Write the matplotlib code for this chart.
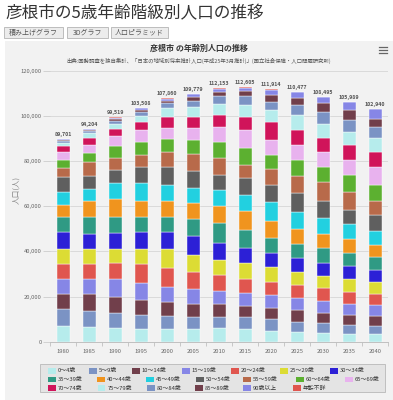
from __future__ import annotations

import matplotlib

matplotlib.use("Agg")
import matplotlib.pyplot as plt
import numpy as np
from matplotlib.lines import Line2D
from matplotlib.patches import Rectangle
from matplotlib.ticker import FixedLocator, FuncFormatter, MultipleLocator

plt.rcParams["font.family"] = ["Noto Sans CJK JP", "DejaVu Sans"]

PAGE_TITLE = "彦根市の5歳年齢階級別人口の推移"
CHART_TITLE = "彦根市 の年齢別人口の推移"
SUBTITLE = "出典:国勢調査を独自集計、「日本の地域別将来推計人口(平成25年3月推計)」(国立社会保障・人口問題研究所)"
BUTTONS = ["積み上げグラフ", "3Dグラフ", "人口ピラミッド"]
Y_LABEL = "人口(人)"

YEARS = ["1980", "1985", "1990", "1995", "2000", "2005", "2010",
         "2015", "2020", "2025", "2030", "2035", "2040"]
TOTALS = [89701, 94204, 99519, 103508, 107860, 109779, 112153,
          112605, 111914, 110477, 108495, 105989, 102940]

AGE_GROUPS = ["0～4歳", "5～9歳", "10～14歳", "15～19歳", "20～24歳", "25～29歳", "30～34歳",
              "35～39歳", "40～44歳", "45～49歳", "50～54歳", "55～59歳", "60～64歳", "65～69歳",
              "70～74歳", "75～79歳", "80～84歳", "85～89歳", "90歳以上", "年齢不詳"]

# persons per age group, one value per year above
AGE_00_04 = [7000, 6400, 5900, 5500, 5600, 5500, 5900, 5500, 4900, 4400, 4000, 3400, 3400]
AGE_05_09 = [7600, 7000, 6900, 6400, 5600, 5400, 5200, 5300, 5000, 4400, 4100, 4000, 3500]
AGE_10_14 = [6500, 7600, 7100, 6600, 6400, 5900, 5600, 5200, 4900, 5200, 4700, 4400, 4500]
AGE_15_19 = [6800, 6600, 8000, 7600, 6800, 6600, 5900, 5600, 5900, 5200, 5300, 4900, 4800]
AGE_20_24 = [6500, 6800, 7100, 8300, 8400, 7400, 6900, 6200, 5800, 5900, 5500, 5400, 4900]
AGE_25_29 = [6500, 6500, 6200, 6800, 8300, 7400, 6700, 7100, 6400, 5900, 5500, 5500, 5400]
AGE_30_34 = [7600, 6800, 6800, 7300, 7400, 8400, 7300, 6600, 6500, 5900, 5900, 5900, 5200]
AGE_35_39 = [6800, 7600, 7000, 6800, 6900, 7800, 8900, 8100, 6300, 6400, 6300, 5600, 5900]
AGE_40_44 = [5200, 7100, 8000, 7100, 7100, 6800, 7600, 8100, 7800, 6400, 6400, 6200, 5200]
AGE_45_49 = [5900, 5200, 7100, 8000, 7100, 7000, 7100, 7400, 8500, 7900, 6900, 6600, 6300]
AGE_50_54 = [6600, 5800, 5900, 6800, 7900, 7200, 6700, 7400, 7200, 8400, 7900, 6600, 7000]
AGE_55_59 = [3700, 6200, 5200, 5400, 6400, 7700, 7400, 5900, 7200, 7400, 8000, 7600, 6300]
AGE_60_64 = [3700, 3800, 5400, 5900, 5900, 6300, 7300, 7400, 6200, 7000, 7000, 7700, 6900]
AGE_65_69 = [3700, 3600, 4400, 5200, 4900, 5400, 6600, 7900, 6800, 6600, 6600, 6600, 8100]
AGE_70_74 = [2500, 3200, 3000, 3800, 5000, 4600, 5200, 6000, 7700, 6700, 6300, 6600, 6700]
AGE_75_79 = [1500, 2000, 2300, 2600, 3600, 4500, 4900, 4900, 5400, 6600, 5900, 6000, 6300]
AGE_80_84 = [900, 1100, 1400, 1700, 2200, 2800, 3500, 4000, 3800, 4400, 5500, 5200, 4700]
AGE_85_89 = [400, 600, 900, 1000, 1300, 1800, 1900, 2400, 3000, 3400, 3700, 4300, 3700]
AGE_90_UP = [150, 150, 500, 500, 700, 1000, 1100, 1400, 2200, 2400, 3000, 3500, 4100]
AGE_UNKNOWN = [150, 150, 400, 200, 360, 300, 450, 200, 400, 0, 0, 0, 0]

SERIES = [AGE_00_04, AGE_05_09, AGE_10_14, AGE_15_19, AGE_20_24, AGE_25_29, AGE_30_34,
          AGE_35_39, AGE_40_44, AGE_45_49, AGE_50_54, AGE_55_59, AGE_60_64, AGE_65_69,
          AGE_70_74, AGE_75_79, AGE_80_84, AGE_85_89, AGE_90_UP, AGE_UNKNOWN]

PALETTE = ["#b6ecec", "#7b93c4", "#713f4b", "#8686e6", "#e0564f", "#dcdc34", "#2c20d6",
           "#2f9a84", "#f0941e", "#22d0e0", "#5f5f5f", "#b86a4a", "#5cb030", "#e8b2ee",
           "#d0145a"]

BG = "#f2f2f2"
W, H = 393, 400

# legend rows: (first item index, x start of each swatch in px), row y in px
LEGEND_ROWS = [
    (0, [48, 89, 132, 182, 231, 280, 330], 371),
    (7, [48, 97, 146, 196, 243, 296, 345], 379.5),
    (14, [48, 98, 147, 195, 243, 293], 388),
]


def fx(px: float) -> float:
    return px / W


def fy(py: float) -> float:
    return 1 - py / H


def draw_frame(fig) -> None:
    fig.add_artist(Rectangle((fx(5), 0), 1 - fx(5), fy(41), transform=fig.transFigure,
                             fc=BG, ec="none", zorder=0))
    fig.text(fx(5), fy(14), PAGE_TITLE, fontsize=12, color="#333333", va="center", ha="left")
    boxes = [(4, 63), (67, 108), (111, 168)]
    for label, (x0, x1) in zip(BUTTONS, boxes):
        fig.add_artist(Rectangle((fx(x0), fy(38)), fx(x1) - fx(x0), fy(27) - fy(38),
                                 transform=fig.transFigure, fc="#ececec", ec="#b4b4b4", lw=0.6))
        fig.text(fx((x0 + x1) / 2), fy(32.5), label, fontsize=5, color="#555555",
                 ha="center", va="center")
    fig.text(fx(199), fy(48), CHART_TITLE, fontsize=5.8, fontweight="bold", color="#333333",
             ha="center", va="center")
    fig.text(fx(199), fy(60.5), SUBTITLE, fontsize=3.9, color="#555555", ha="center", va="center")
    for py in (47, 50, 53):
        fig.add_artist(Line2D([fx(378.5), fx(387)], [fy(py), fy(py)], transform=fig.transFigure,
                              color="#666666", lw=0.9))
    fig.text(fx(16), fy(190), Y_LABEL, rotation=90, fontsize=5.5, color="#888888",
             ha="center", va="center")


def draw_bars(fig) -> None:
    ax = fig.add_axes([fx(50), fy(341.7), fx(388) - fx(50), (341.7 - 70.7) / H])
    ax.set_facecolor("none")
    x = np.arange(len(YEARS))
    bottom = np.zeros(len(YEARS))
    for i, values in enumerate(SERIES):
        vals = np.array(values, dtype=float)
        ax.bar(x, vals, width=0.5, bottom=bottom, color=PALETTE[i % len(PALETTE)],
               edgecolor="white", linewidth=0.3, zorder=3)
        bottom += vals
    for xi, total in zip(x, TOTALS):
        ax.text(xi, total + 900, f"{total:,}", ha="center", va="bottom", fontsize=3.8,
                color="#555555", fontweight="bold")

    ax.set_xlim(-0.5, len(YEARS) - 0.5)
    ax.set_ylim(0, 120000)
    ax.yaxis.set_major_locator(MultipleLocator(20000))
    ax.yaxis.set_major_formatter(FuncFormatter(lambda v, _: f"{int(v):,}"))
    ax.grid(axis="y", color="#d6d6d6", lw=0.6, zorder=0)
    ax.set_axisbelow(True)
    ax.tick_params(axis="y", length=5, width=0.6, color="#cccccc", labelsize=4.2,
                   labelcolor="#666666", pad=1)

    ax.set_xticks(x)
    ax.set_xticklabels(YEARS)
    ax.xaxis.set_minor_locator(FixedLocator(np.arange(-0.5, len(YEARS), 1.0)))
    ax.tick_params(axis="x", which="major", length=0, labelsize=4.2, labelcolor="#666666", pad=5)
    ax.tick_params(axis="x", which="minor", length=3, width=0.6, color="#c0c0c0")

    for side in ("top", "right", "left"):
        ax.spines[side].set_visible(False)
    ax.spines["bottom"].set_color("#c0c0c0")
    ax.spines["bottom"].set_linewidth(0.7)


def draw_legend(fig) -> None:
    fig.add_artist(Rectangle((fx(40), fy(392)), fx(385) - fx(40), fy(364) - fy(392),
                             transform=fig.transFigure, fc="#e4e4e4", ec="#b8b8b8", lw=0.6))
    for start, xs, py in LEGEND_ROWS:
        for k, px in enumerate(xs):
            idx = start + k
            fig.add_artist(Rectangle((fx(px), fy(py + 2.6)), fx(7.5), 5.2 / H,
                                     transform=fig.transFigure,
                                     fc=PALETTE[idx % len(PALETTE)], ec="none"))
            fig.text(fx(px + 9.5), fy(py), AGE_GROUPS[idx], fontsize=4.2, color="#333333",
                     ha="left", va="center")


def main() -> None:
    fig = plt.figure(figsize=(W / 100, H / 100), dpi=100)
    fig.patch.set_facecolor("white")
    draw_frame(fig)
    draw_bars(fig)
    draw_legend(fig)
    fig.savefig("out.png", dpi=100)
    plt.close(fig)


if __name__ == "__main__":
    main()
